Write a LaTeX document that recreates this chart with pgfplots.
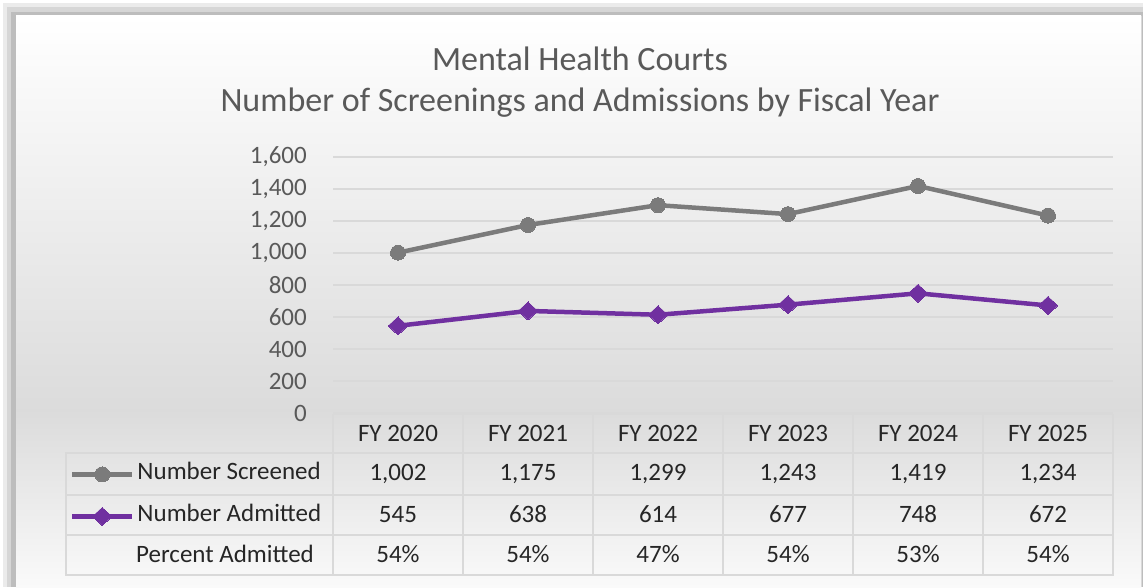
\documentclass[border=0pt]{standalone}
\usepackage{fontspec}
\setmainfont{Carlito}
\usepackage{pgfplots}
\pgfplotsset{compat=1.18}
\definecolor{txtgray}{HTML}{595959}
\definecolor{gridc}{HTML}{D9D9D9}
\definecolor{sgray}{HTML}{7B7B7B}
\definecolor{apurple}{HTML}{7030A0}
\definecolor{tabtxt}{HTML}{262626}
\newcommand{\tabfont}{\fontsize{25}{30}\selectfont}
\begin{document}
\begin{tikzpicture}[x=1pt,y=1pt]
\fill[white] (0,0) rectangle (1143,587);
% shadow
\fill[black!8] (3,0) rectangle (1143,584);
\fill[black!16] (7,0) rectangle (1143,580);
\fill[black!26] (11,0) rectangle (1143,575);
% chart area
\shade[top color=white, bottom color=black!14] (16,176) rectangle (1141,571);
\shade[top color=black!14, bottom color=black!2] (16,0) rectangle (1141,176.5);
\draw[black!15, line width=1pt] (1141.5,0) -- (1141.5,571);
% title
\node[font=\fontsize{34}{40}\selectfont, text=txtgray, anchor=base] at (580,516) {Mental Health Courts};
\node[font=\fontsize{34}{40}\selectfont, text=txtgray, anchor=base] at (580,475) {Number of Screenings and Admissions by Fiscal Year};
\begin{axis}[
  at={(333pt,174pt)}, anchor=south west, scale only axis,
  width=780pt, height=256pt,
  xmin=-0.5, xmax=5.5, ymin=0, ymax=1600,
  ytick={0,200,...,1600}, xtick=\empty,
  ymajorgrids, grid style={color=gridc, line width=1.6pt},
  axis line style={draw=none}, major tick length=0pt,
  /pgf/number format/.cd, 1000 sep={,}, assume math mode=true, /pgfplots/.cd,
  yticklabel style={font=\tabfont, text=txtgray, anchor=east, inner sep=0pt, xshift=-26pt},
  clip=false,
  legend cell align=left,
  legend image code/.code={\draw[mark repeat=2,mark phase=2] plot coordinates {(0pt,0pt)(30pt,0pt)(60pt,0pt)};},
  legend style={at={(axis description cs:-0.3372,-0.195)}, anchor=north west,
    draw=none, fill=none, inner sep=0pt, outer sep=0pt, row sep=19pt,
    font=\tabfont,
    nodes={inner sep=0pt, text height=17pt, text depth=6pt, text=tabtxt},
    /tikz/every odd column/.append style={column sep=3pt}},
]
\addplot[color=sgray, line width=4.5pt, mark=*, mark size=7.5pt, mark options={fill=sgray, line width=0pt}]
  coordinates {(0,1002)(1,1175)(2,1299)(3,1243)(4,1419)(5,1234)};
\addlegendentry{Number Screened}
\addplot[color=apurple, line width=4.5pt, mark=diamond*, mark size=9pt, mark options={fill=apurple, line width=0pt, xscale=1.45}]
  coordinates {(0,545)(1,638)(2,614)(3,677)(4,748)(5,672)};
\addlegendentry{Number Admitted}
\end{axis}
% data table
\begin{scope}[gridc, line width=1.6pt]
  \draw (333,173) -- (1113,173);
  \foreach \i in {0,...,6} \draw (333+130*\i,173) -- (333+130*\i,12);
  \draw (66,134) rectangle (1113,12);
  \draw (66,92) -- (1113,92);
  \draw (66,52) -- (1113,52);
\end{scope}
\foreach \lab [count=\i from 0] in {FY 2020,FY 2021,FY 2022,FY 2023,FY 2024,FY 2025}
  \node[anchor=base, font=\tabfont, text=tabtxt] at (398+130*\i,146) {\lab};
\foreach \lab [count=\i from 0] in {{1,002},{1,175},{1,299},{1,243},{1,419},{1,234}}
  \node[anchor=base, font=\tabfont, text=tabtxt] at (398+130*\i,107) {\lab};
\foreach \lab [count=\i from 0] in {545,638,614,677,748,672}
  \node[anchor=base, font=\tabfont, text=tabtxt] at (398+130*\i,65) {\lab};
\foreach \lab [count=\i from 0] in {54,54,47,54,53,54}
  \node[anchor=base, font=\tabfont, text=tabtxt] at (398+130*\i,25) {\lab\%};
\node[anchor=base west, font=\tabfont, text=tabtxt, inner sep=0pt] at (136,25) {Percent Admitted};
\end{tikzpicture}
\end{document}
